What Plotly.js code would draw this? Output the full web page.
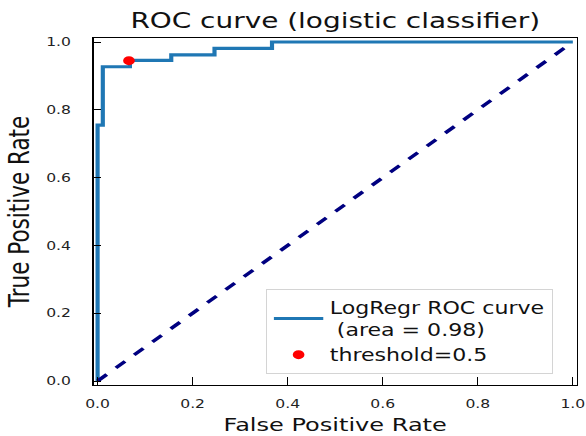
<!DOCTYPE html>
<html>
<head>
<meta charset="utf-8">
<script src="https://cdn.plot.ly/plotly-3.0.1.min.js"></script>
<style>
html,body{margin:0;padding:0;background:#fff;overflow:hidden;}
#chart{width:451px;height:436px;transform:scaleX(1.2993);transform-origin:0 0;}
</style>
</head>
<body>
<div id="chart"></div>
<script>
// ROC curve values
var fpr = [0.0, 0.0, 0.011, 0.011, 0.068, 0.068, 0.155, 0.155, 0.246, 0.246, 0.367, 0.367, 1.0];
var tpr = [0.0, 0.755, 0.755, 0.927, 0.927, 0.946, 0.946, 0.962, 0.962, 0.981, 0.981, 1.0, 1.0];
var chanceX = [0, 1];
var chanceY = [0, 1];
var thresholdX = [0.066];
var thresholdY = [0.945];
var tickVals = [0, 0.2, 0.4, 0.6, 0.8, 1.0];
var tickText = ["0.0", "0.2", "0.4", "0.6", "0.8", "1.0"];
var xTitle = "False Positive Rate";
var yTitle = "True Positive Rate";
var chartTitle = "ROC curve (logistic classifier)";

var font = "DejaVu Sans, sans-serif";

var traces = [
  {x: fpr, y: tpr, mode: "lines", type: "scatter",
   line: {color: "#1f77b4", width: 3.2},
   name: "LogRegr ROC curve<br>\u00a0(area = 0.98)"},
  {x: chanceX, y: chanceY, mode: "lines", type: "scatter",
   line: {color: "#000080", width: 3.2, dash: "dash"},
   showlegend: false, hoverinfo: "skip"},
  {x: thresholdX, y: thresholdY, mode: "markers", type: "scatter",
   marker: {color: "red", size: 9},
   name: "threshold=0.5"}
];

var axisCommon = {
  showgrid: false, zeroline: false,
  showline: true, mirror: true, linecolor: "#000", linewidth: 1,
  ticks: "inside", tickwidth: 1, tickcolor: "#000",
  tickvals: tickVals, ticktext: tickText,
  tickfont: {family: font, size: 12, color: "#222"}
};

var layout = {
  width: 451, height: 436,
  margin: {l: 71.5, r: 7, t: 38, b: 51},
  paper_bgcolor: "#fff", plot_bgcolor: "#fff",
  font: {family: font, color: "#000"},
  title: {text: chartTitle, font: {family: font, size: 21.5, color: "#111"},
          x: 0.5, xref: "paper", y: 0.952, yref: "container", yanchor: "middle"},
  xaxis: Object.assign({}, axisCommon, {
    range: [-0.0085, 1.0085], ticklen: 8,
    ticklabelstandoff: 8
  }),
  yaxis: Object.assign({}, axisCommon, {
    range: [-0.0118, 1.0118], ticklen: 6,
    ticklabelstandoff: 14,
    title: {text: yTitle, font: {family: font, size: 21.5, color: "#111"}, standoff: 6}
  }),
  annotations: [{
    text: xTitle, xref: "paper", yref: "paper", x: 0.5, y: -0.146,
    xanchor: "center", yanchor: "bottom", showarrow: false, borderpad: 0,
    font: {family: font, size: 18.5, color: "#111"}
  }],
  legend: {
    x: 0.357, y: 0.032, xanchor: "left", yanchor: "bottom",
    bgcolor: "#fff", bordercolor: "#d4d4d4", borderwidth: 1,
    font: {family: font, size: 17, color: "#111"},
    itemwidth: 38, tracegroupgap: 0
  },
  showlegend: true
};

Plotly.newPlot("chart", traces, layout, {displayModeBar: false, staticPlot: true});
</script>
</body>
</html>
